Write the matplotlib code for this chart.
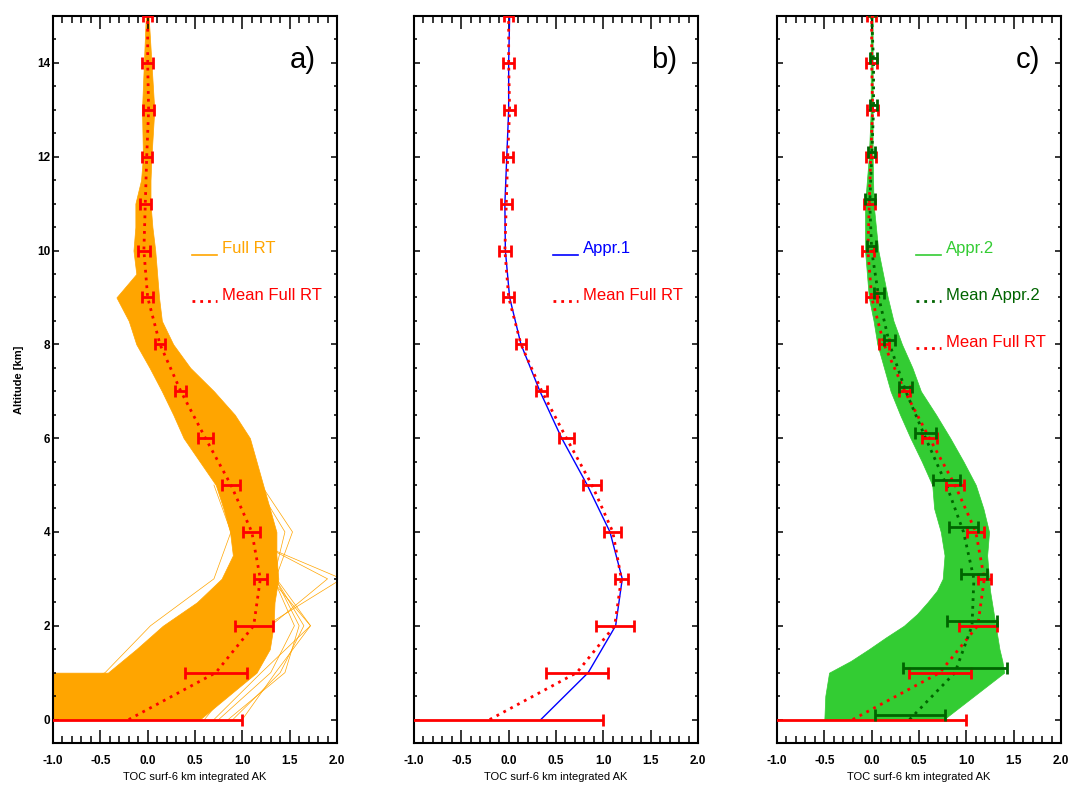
import matplotlib
matplotlib.use('Agg')
import matplotlib.pyplot as plt
from matplotlib.lines import Line2D
from matplotlib.legend_handler import HandlerLine2D
from matplotlib.ticker import MultipleLocator, FormatStrFormatter

plt.rcParams['font.family'] = ['Liberation Sans', 'DejaVu Sans']
plt.rcParams['axes.unicode_minus'] = False

# altitude grid of the profiles [km]
alt = [0, 1, 2, 3, 4, 5, 6, 7, 8, 9, 10, 11, 12, 13, 14, 15]

# mean Full RT and its spread
mean_full = [-0.20, 0.72, 1.12, 1.19, 1.10, 0.88, 0.61, 0.35, 0.13, 0.00,
             -0.04, -0.025, -0.01, 0.01, 0.00, 0.00]
err_full = [1.20, 0.33, 0.20, 0.067, 0.09, 0.095, 0.08, 0.06, 0.055, 0.06,
            0.06, 0.055, 0.055, 0.06, 0.055, 0.05]

# Appr.1
appr1 = [0.34, 0.84, 1.13, 1.20, 1.07, 0.83, 0.56, 0.33, 0.13, 0.01,
         -0.035, -0.04, -0.02, 0.00, 0.00, 0.01]

# mean Appr.2 and its spread
mean_appr2 = [0.40, 0.88, 1.06, 1.08, 0.97, 0.79, 0.57, 0.36, 0.19, 0.075,
              0.00, -0.02, 0.00, 0.02, 0.02, 0.00]
err_appr2 = [0.37, 0.55, 0.26, 0.14, 0.15, 0.14, 0.11, 0.07, 0.06, 0.055,
             0.05, 0.05, 0.04, 0.04, 0.04, 0.03]

# envelope of the Full RT ensemble
env_alt_a = [0, 1, 1, 1.5, 2, 2.5, 3, 3.5, 4, 4.5, 5, 5.5, 6, 6.5, 7, 7.5, 8,
             8.5, 9, 9.5, 10, 10.5, 11, 11.5, 12, 13, 14, 15]
env_left_a = [-1.5, -1.5, -0.42, -0.12, 0.16, 0.52, 0.78, 0.90, 0.87, 0.80,
              0.72, 0.55, 0.38, 0.27, 0.15, 0.02, -0.12, -0.20, -0.33, -0.12,
              -0.15, -0.13, -0.13, -0.07, -0.05, -0.06, -0.04, -0.02]
env_right_a = [0.55, 1.15, 1.15, 1.29, 1.33, 1.34, 1.38, 1.36, 1.36, 1.29,
               1.22, 1.15, 1.08, 0.92, 0.70, 0.45, 0.27, 0.15, 0.12, 0.10,
               0.08, 0.05, 0.03, 0.03, 0.04, 0.07, 0.04, 0.01]

# single Full RT members sticking out of the bulk (0-5 km)
out_alt = [0, 1, 2, 3, 4, 5]
out_members = [
    [0.55, 1.05, 1.25, 2.05, 0.88, 0.90],
    [0.60, 1.00, 1.30, 1.90, 0.95, 0.90],
    [0.70, 1.20, 1.72, 1.30, 1.30, 1.20],
    [0.85, 1.45, 1.60, 1.35, 1.53, 1.20],
    [1.00, 1.35, 1.72, 1.36, 1.20, 1.10],
    [0.90, 1.40, 1.65, 1.35, 1.35, 1.20],
    [0.75, 1.30, 1.55, 1.33, 1.45, 1.15],
    [-1.5, -0.45, 0.03, 0.70, 0.88, 0.70],
]

# envelope of the Appr.2 ensemble
env_alt_c = [0, 0.5, 1, 1.25, 1.5, 1.75, 2, 2.25, 2.5, 2.75, 3, 3.5, 4, 4.5,
             5, 5.5, 6, 6.5, 7, 7.5, 8, 8.5, 9, 10, 11, 12, 13, 14, 15]
env_left_c = [-0.50, -0.49, -0.45, -0.22, -0.03, 0.15, 0.34, 0.48, 0.59, 0.69,
              0.75, 0.77, 0.73, 0.66, 0.64, 0.53, 0.41, 0.30, 0.20, 0.13, 0.06,
              0.02, -0.03, -0.07, -0.07, -0.03, -0.01, -0.01, -0.01]
env_right_c = [0.76, 1.08, 1.40, 1.38, 1.35, 1.33, 1.31, 1.29, 1.27, 1.25,
               1.24, 1.22, 1.24, 1.18, 1.10, 0.97, 0.83, 0.68, 0.52, 0.43, 0.32,
               0.23, 0.17, 0.07, 0.02, 0.01, 0.01, 0.01, 0.01]

xticks = [-1.0, -0.5, 0.0, 0.5, 1.0, 1.5, 2.0]
panel_labels = ['a)', 'b)', 'c)']

ORANGE = '#ffa500'
RED = '#ff0000'
BLUE = '#0000ff'
LGREEN = '#33cc33'
DGREEN = '#006400'
GREEN_SHIFT = 0.1   # Appr.2 error bars drawn slightly above the level


class BaselineHandler(HandlerLine2D):
    # legend sample sitting on the text baseline, IDL style
    def create_artists(self, legend, orig_handle, xdescent, ydescent,
                       width, height, fontsize, trans):
        arts = super().create_artists(legend, orig_handle, xdescent,
                                      ydescent, width, height, fontsize,
                                      trans)
        for a in arts:
            a.set_ydata([-0.1 * height] * len(a.get_xdata()))
        return arts


fig = plt.figure(figsize=(10.7, 7.87), dpi=100)
lefts = [53, 414, 777]
axs = []
for i, l in enumerate(lefts):
    ax = fig.add_axes([l / 1070, 44 / 787, 284 / 1070, 727 / 787])
    axs.append(ax)


def style(ax, show_y):
    ax.set_xlim(-1, 2)
    ax.set_ylim(-0.5, 15)
    ax.set_xticks(xticks)
    ax.xaxis.set_major_formatter(FormatStrFormatter('%.1f'))
    ax.xaxis.set_minor_locator(MultipleLocator(0.1))
    ax.yaxis.set_major_locator(MultipleLocator(2))
    ax.yaxis.set_minor_locator(MultipleLocator(0.5))
    ax.tick_params(which='both', direction='in', top=True, right=True)
    ax.tick_params(axis='x', which='major', length=9.5, width=1.1, pad=9,
                   labelsize=8.5)
    ax.tick_params(axis='x', which='minor', length=5, width=1.1)
    ax.tick_params(axis='y', which='major', length=4.5, width=1.1, pad=2,
                   labelsize=8.5, labelleft=show_y)
    ax.tick_params(axis='y', which='minor', length=2.5, width=1.1)
    for t in ax.get_xticklabels() + ax.get_yticklabels():
        t.set_fontweight('bold')
    for s in ax.spines.values():
        s.set_linewidth(1.5)
    ax.set_xlabel('TOC surf-6 km integrated AK', fontsize=8, labelpad=3)
    if show_y:
        ax.set_ylabel('Altitude [km]', fontsize=8, fontweight='bold',
                      labelpad=9)


dot = (0, (1, 1.8))
DLW = 2.0

# ---- a) Full RT ensemble
ax = axs[0]
ax.fill_betweenx(env_alt_a, env_left_a, env_right_a, color=ORANGE, lw=0.5,
                 zorder=1)
for m in out_members:
    ax.plot(m, out_alt, color=ORANGE, lw=0.5, zorder=1)
ax.plot(mean_full, alt, color=RED, lw=DLW, ls=dot, zorder=3)
ax.errorbar(mean_full, alt, xerr=err_full, fmt='none', ecolor=RED,
            elinewidth=2, capsize=4, capthick=2, zorder=4)
h = [Line2D([], [], color=ORANGE, lw=1.2),
     Line2D([], [], color=RED, lw=DLW, ls=dot)]
lab = ['Full RT', 'Mean Full RT']

# ---- b) Appr.1
ax = axs[1]
ax.plot(appr1, alt, color=BLUE, lw=1.0, zorder=3)
ax.plot(mean_full, alt, color=RED, lw=DLW, ls=dot, zorder=3)
ax.errorbar(mean_full, alt, xerr=err_full, fmt='none', ecolor=RED,
            elinewidth=2, capsize=4, capthick=2, zorder=4)
hb = [Line2D([], [], color=BLUE, lw=1.2),
      Line2D([], [], color=RED, lw=DLW, ls=dot)]
labb = ['Appr.1', 'Mean Full RT']

# ---- c) Appr.2 ensemble
ax = axs[2]
ax.fill_betweenx(env_alt_c, env_left_c, env_right_c, color=LGREEN, lw=0.5,
                 zorder=1)
ax.plot(mean_full, alt, color=RED, lw=DLW, ls=dot, zorder=3)
ax.errorbar(mean_full, alt, xerr=err_full, fmt='none', ecolor=RED,
            elinewidth=2, capsize=4, capthick=2, zorder=4)
ax.plot(mean_appr2, alt, color=DGREEN, lw=DLW, ls=dot, zorder=3)
ax.errorbar(mean_appr2, [a + GREEN_SHIFT for a in alt], xerr=err_appr2,
            fmt='none', ecolor=DGREEN, elinewidth=2, capsize=4, capthick=2,
            zorder=5)
hc = [Line2D([], [], color=LGREEN, lw=1.2),
      Line2D([], [], color=DGREEN, lw=DLW, ls=dot),
      Line2D([], [], color=RED, lw=DLW, ls=dot)]
labc = ['Appr.2', 'Mean Appr.2', 'Mean Full RT']

for ax, hh, ll in zip(axs, [h, hb, hc], [lab, labb, labc]):
    ax.legend(hh, ll, loc='upper left', bbox_to_anchor=(0.49, 0.69),
              frameon=False, fontsize=12, handlelength=1.5,
              handletextpad=0.3, labelspacing=1.9, borderpad=0,
              borderaxespad=0, labelcolor='linecolor',
              handler_map={Line2D: BaselineHandler()})

for i, ax in enumerate(axs):
    style(ax, i == 0)
    ax.text(0.925, 0.94, panel_labels[i], transform=ax.transAxes,
            ha='right', va='center', fontsize=21)

fig.savefig('out.png', dpi=100)
